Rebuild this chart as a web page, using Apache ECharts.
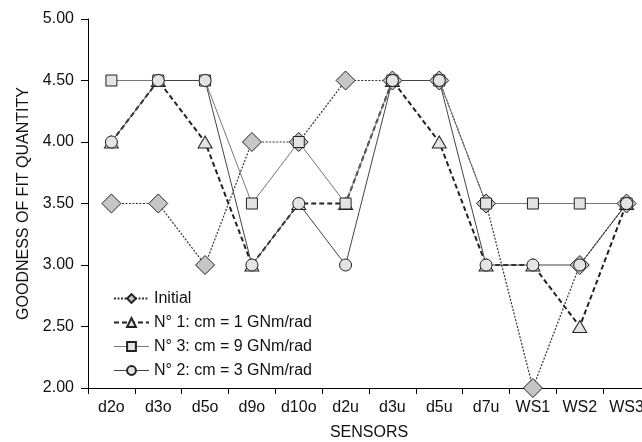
<!DOCTYPE html>
<html>
<head>
<meta charset="utf-8">
<script src="https://cdn.jsdelivr.net/npm/echarts@6/dist/echarts.min.js"></script>
<style>html,body{margin:0;padding:0;background:#fff;}#c{width:642px;height:442px;}</style>
</head>
<body>
<div id="c"></div>
<script>
const categories = ['d2o','d3o','d5o','d9o','d10o','d2u','d3u','d5u','d7u','WS1','WS2','WS3'];
const initial = [3.5, 3.5, 3.0, 4.0, 4.0, 4.5, 4.5, 4.5, 3.5, 2.0, 3.0, 3.5];
const n1 = [4.0, 4.5, 4.0, 3.0, 3.5, 3.5, 4.5, 4.0, 3.0, 3.0, 2.5, 3.5];
const n3 = [4.5, 4.5, 4.5, 3.5, 4.0, 3.5, 4.5, 4.5, 3.5, 3.5, 3.5, 3.5];
const n2 = [4.0, 4.5, 4.5, 3.0, 3.5, 3.0, 4.5, 4.5, 3.0, 3.0, 3.0, 3.5];
const seriesNames = ['Initial', 'N° 1: cm = 1 GNm/rad', 'N° 3: cm = 9 GNm/rad', 'N° 2: cm = 3 GNm/rad'];

const font = 'Liberation Sans, Arial, sans-serif';
const chart = echarts.init(document.getElementById('c'), null, {renderer: 'canvas'});
chart.setOption({
  animation: false,
  backgroundColor: '#fff',
  grid: {left: 88, right: -8, top: 19, bottom: 54, containLabel: false, outerBoundsMode: 'none'},
  legend: {
    orient: 'vertical', left: 108, top: 285,
    itemWidth: 35, itemHeight: 11, itemGap: 7,
    textStyle: {fontFamily: font, fontSize: 16, color: '#111', lineHeight: 17},
    data: [
      {name: seriesNames[0]},
      {name: seriesNames[1]},
      {name: seriesNames[2], lineStyle: {color: '#777', width: 1}},
      {name: seriesNames[3], lineStyle: {color: '#444', width: 1}}
    ]
  },
  xAxis: {
    type: 'category', data: categories, boundaryGap: true,
    name: 'SENSORS', nameLocation: 'middle', nameGap: 37,
    nameTextStyle: {fontFamily: font, fontSize: 16, color: '#111'},
    axisLine: {lineStyle: {color: '#000', width: 1}},
    axisTick: {show: true, length: 6, inside: false, lineStyle: {color: '#000'}},
    axisLabel: {fontFamily: font, fontSize: 16, color: '#111', margin: 12, interval: 0, hideOverlap: false},
    splitLine: {show: false}
  },
  yAxis: {
    type: 'value', min: 2, max: 5, interval: 0.5,
    name: 'GOODNESS OF FIT QUANTITY', nameLocation: 'middle', nameGap: 56,
    nameTextStyle: {fontFamily: font, fontSize: 16, color: '#111'},
    axisLine: {show: true, lineStyle: {color: '#000', width: 1}},
    axisTick: {show: true, length: 7, lineStyle: {color: '#000'}},
    axisLabel: {fontFamily: font, fontSize: 16, color: '#111', margin: 14, formatter: v => v.toFixed(2)},
    splitLine: {show: false}
  },
  series: [
    {
      name: seriesNames[0], type: 'line', data: initial,
      symbol: 'diamond', symbolSize: 19,
      lineStyle: {color: '#333', width: 1.2, type: [2, 1.5]},
      itemStyle: {color: '#c6c6c6', borderColor: '#222', borderWidth: 1}
    },
    {
      name: seriesNames[1], type: 'line', data: n1,
      symbol: 'triangle', symbolSize: [14, 12],
      lineStyle: {color: '#222', width: 2, type: [5, 3]},
      itemStyle: {color: '#e4e4e4', borderColor: '#222', borderWidth: 1}
    },
    {
      name: seriesNames[2], type: 'line', data: n3,
      symbol: 'rect', symbolSize: 11,
      lineStyle: {color: '#777', width: 1, type: 'solid'},
      itemStyle: {color: '#e4e4e4', borderColor: '#222', borderWidth: 1}
    },
    {
      name: seriesNames[3], type: 'line', data: n2,
      symbol: 'circle', symbolSize: 12,
      lineStyle: {color: '#444', width: 1, type: 'solid'},
      itemStyle: {color: '#e4e4e4', borderColor: '#222', borderWidth: 1}
    }
  ]
});
</script>
</body>
</html>
